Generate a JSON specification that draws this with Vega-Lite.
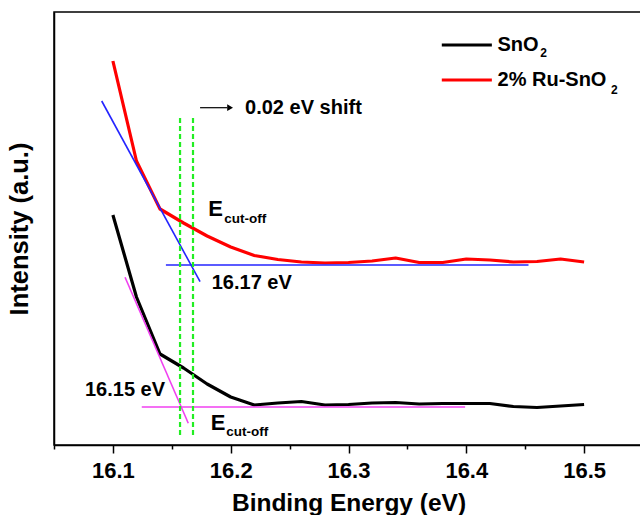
{
  "$schema": "https://vega.github.io/schema/vega-lite/v6.json",
  "width": 589,
  "height": 433,
  "autosize": {"type": "none"},
  "padding": {"left": 54, "top": 12, "right": 0, "bottom": 70},
  "background": "white",
  "config": {
    "view": {"stroke": "black", "strokeWidth": 1.5},
    "font": "Liberation Sans"
  },
  "datasets": {
    "spectra": [
      {"sample": "2% Ru-SnO2", "energy": 16.10, "intensity": 384},
      {"sample": "2% Ru-SnO2", "energy": 16.12, "intensity": 284},
      {"sample": "2% Ru-SnO2", "energy": 16.14, "intensity": 236},
      {"sample": "2% Ru-SnO2", "energy": 16.16, "intensity": 222},
      {"sample": "2% Ru-SnO2", "energy": 16.18, "intensity": 209},
      {"sample": "2% Ru-SnO2", "energy": 16.20, "intensity": 198},
      {"sample": "2% Ru-SnO2", "energy": 16.22, "intensity": 189.5},
      {"sample": "2% Ru-SnO2", "energy": 16.24, "intensity": 185.5},
      {"sample": "2% Ru-SnO2", "energy": 16.26, "intensity": 183},
      {"sample": "2% Ru-SnO2", "energy": 16.28, "intensity": 182},
      {"sample": "2% Ru-SnO2", "energy": 16.30, "intensity": 182.5},
      {"sample": "2% Ru-SnO2", "energy": 16.32, "intensity": 184},
      {"sample": "2% Ru-SnO2", "energy": 16.34, "intensity": 187},
      {"sample": "2% Ru-SnO2", "energy": 16.36, "intensity": 182.5},
      {"sample": "2% Ru-SnO2", "energy": 16.38, "intensity": 182.5},
      {"sample": "2% Ru-SnO2", "energy": 16.40, "intensity": 186},
      {"sample": "2% Ru-SnO2", "energy": 16.42, "intensity": 185},
      {"sample": "2% Ru-SnO2", "energy": 16.44, "intensity": 183},
      {"sample": "2% Ru-SnO2", "energy": 16.46, "intensity": 183.5},
      {"sample": "2% Ru-SnO2", "energy": 16.48, "intensity": 186},
      {"sample": "2% Ru-SnO2", "energy": 16.50, "intensity": 183},
      {"sample": "SnO2", "energy": 16.10, "intensity": 230},
      {"sample": "SnO2", "energy": 16.12, "intensity": 148},
      {"sample": "SnO2", "energy": 16.14, "intensity": 91},
      {"sample": "SnO2", "energy": 16.16, "intensity": 77},
      {"sample": "SnO2", "energy": 16.18, "intensity": 61},
      {"sample": "SnO2", "energy": 16.20, "intensity": 48},
      {"sample": "SnO2", "energy": 16.22, "intensity": 40},
      {"sample": "SnO2", "energy": 16.24, "intensity": 42},
      {"sample": "SnO2", "energy": 16.26, "intensity": 43.5},
      {"sample": "SnO2", "energy": 16.28, "intensity": 40},
      {"sample": "SnO2", "energy": 16.30, "intensity": 40.5},
      {"sample": "SnO2", "energy": 16.32, "intensity": 42},
      {"sample": "SnO2", "energy": 16.34, "intensity": 42.5},
      {"sample": "SnO2", "energy": 16.36, "intensity": 41},
      {"sample": "SnO2", "energy": 16.38, "intensity": 41.5},
      {"sample": "SnO2", "energy": 16.40, "intensity": 41.5},
      {"sample": "SnO2", "energy": 16.42, "intensity": 41.5},
      {"sample": "SnO2", "energy": 16.44, "intensity": 38.5},
      {"sample": "SnO2", "energy": 16.46, "intensity": 37.5},
      {"sample": "SnO2", "energy": 16.48, "intensity": 39},
      {"sample": "SnO2", "energy": 16.50, "intensity": 40.5}
    ],
    "fits": [
      {"fit": "2% Ru-SnO2 fit", "x1": 16.0905, "y1": 344, "x2": 16.174, "y2": 163.3},
      {"fit": "2% Ru-SnO2 fit", "x1": 16.145, "y1": 180, "x2": 16.4528, "y2": 180},
      {"fit": "SnO2 fit", "x1": 16.1103, "y1": 167.7, "x2": 16.164, "y2": 21.7},
      {"fit": "SnO2 fit", "x1": 16.1245, "y1": 38, "x2": 16.399, "y2": 38}
    ],
    "cutoffs": [
      {"energy": 16.157, "top": 327, "bottom": 8},
      {"energy": 16.168, "top": 327, "bottom": 8}
    ],
    "arrow": [
      {"x1": 16.174, "x2": 16.197, "y": 337.3}
    ],
    "arrowhead": [
      {"x": 16.1995, "y": 337.3}
    ],
    "legendlines": [
      {"sample": "SnO2", "x1": 16.3792, "x2": 16.4217, "y": 400},
      {"sample": "2% Ru-SnO2", "x1": 16.3792, "x2": 16.4217, "y": 365}
    ],
    "texts": [
      {"kind": "label", "text": "0.02 eV shift", "x": 16.2122, "y": 337.2},
      {"kind": "label", "text": "16.17 eV", "x": 16.1839, "y": 161.7},
      {"kind": "label", "text": "16.15 eV", "x": 16.0763, "y": 55},
      {"kind": "big", "text": "E", "x": 16.181, "y": 236},
      {"kind": "big", "text": "E", "x": 16.1831, "y": 22.5},
      {"kind": "label", "text": "SnO", "x": 16.4265, "y": 400},
      {"kind": "label", "text": "2% Ru-SnO", "x": 16.4265, "y": 365},
      {"kind": "sub", "text": "cut-off", "x": 16.1945, "y": 226},
      {"kind": "sub", "text": "cut-off", "x": 16.1962, "y": 13},
      {"kind": "sub2", "text": "2", "x": 16.4627, "y": 391.7},
      {"kind": "sub2", "text": "2", "x": 16.5228, "y": 354.7}
    ]
  },
  "layer": [
    {
      "data": {"name": "spectra"},
      "mark": {"type": "line", "strokeWidth": 3.2, "strokeJoin": "round"},
      "encoding": {
        "x": {
          "field": "energy",
          "type": "quantitative",
          "scale": {"domain": [16.05, 16.55], "nice": false, "zero": false},
          "axis": {
            "values": [16.05, 16.1, 16.15, 16.2, 16.25, 16.3, 16.35, 16.4, 16.45, 16.5, 16.55],
            "title": "Binding Energy (eV)",
            "titleFontSize": 24.5,
            "titleFontWeight": "bold",
            "titleColor": "black",
            "titlePadding": 10,
            "labelFontSize": 22,
            "labelFontWeight": "bold",
            "labelColor": "black",
            "labelPadding": 7,
            "labelFlush": false,
            "labelOverlap": false,
            "labelExpr": "abs(round(datum.value*10)-datum.value*10) > 0.01 ? '' : format(datum.value, '.1f')",
            "tickSize": {"condition": {"test": "abs(round(datum.value*10)-datum.value*10) > 0.01", "value": 4}, "value": 8},
            "tickColor": "black",
            "tickWidth": 1.5,
            "domainColor": "black",
            "domainWidth": 1.5,
            "grid": false
          }
        },
        "y": {
          "field": "intensity",
          "type": "quantitative",
          "scale": {"domain": [0, 433], "nice": false, "zero": false},
          "axis": {
            "title": "Intensity (a.u.)",
            "ticks": false,
            "labels": false,
            "domainColor": "black",
            "domainWidth": 1.5,
            "titleFontSize": 25.5,
            "titleFontWeight": "bold",
            "titleColor": "black",
            "titlePadding": 22,
            "grid": false
          }
        },
        "color": {
          "field": "sample",
          "type": "nominal",
          "scale": {
            "domain": ["SnO2", "2% Ru-SnO2", "SnO2 fit", "2% Ru-SnO2 fit"],
            "range": ["#000000", "#ff0000", "#f040f0", "#2424ff"]
          },
          "legend": null
        }
      }
    },
    {
      "data": {"name": "fits"},
      "mark": {"type": "rule", "strokeWidth": 1.6},
      "encoding": {
        "x": {"field": "x1", "type": "quantitative"},
        "x2": {"field": "x2"},
        "y": {"field": "y1", "type": "quantitative"},
        "y2": {"field": "y2"},
        "color": {"field": "fit", "type": "nominal", "legend": null}
      }
    },
    {
      "data": {"name": "cutoffs"},
      "mark": {"type": "rule", "strokeWidth": 2.2, "strokeDash": [5, 3], "color": "#22ee22"},
      "encoding": {
        "x": {"field": "energy", "type": "quantitative"},
        "y": {"field": "top", "type": "quantitative"},
        "y2": {"field": "bottom"}
      }
    },
    {
      "data": {"name": "arrow"},
      "mark": {"type": "rule", "strokeWidth": 1.2, "color": "black"},
      "encoding": {
        "x": {"field": "x1", "type": "quantitative"},
        "x2": {"field": "x2"},
        "y": {"field": "y", "type": "quantitative"}
      }
    },
    {
      "data": {"name": "arrowhead"},
      "mark": {"type": "point", "shape": "triangle-right", "filled": true, "color": "black", "size": 45, "opacity": 1},
      "encoding": {
        "x": {"field": "x", "type": "quantitative"},
        "y": {"field": "y", "type": "quantitative"}
      }
    },
    {
      "data": {"name": "legendlines"},
      "mark": {"type": "rule", "strokeWidth": 3},
      "encoding": {
        "x": {"field": "x1", "type": "quantitative"},
        "x2": {"field": "x2"},
        "y": {"field": "y", "type": "quantitative"},
        "color": {"field": "sample", "type": "nominal", "legend": null}
      }
    },
    {
      "data": {"name": "texts"},
      "transform": [{"filter": "datum.kind == 'label'"}],
      "mark": {"type": "text", "align": "left", "baseline": "middle", "fontSize": 20, "fontWeight": "bold", "color": "black"},
      "encoding": {
        "x": {"field": "x", "type": "quantitative"},
        "y": {"field": "y", "type": "quantitative"},
        "text": {"field": "text"}
      }
    },
    {
      "data": {"name": "texts"},
      "transform": [{"filter": "datum.kind == 'big'"}],
      "mark": {"type": "text", "align": "left", "baseline": "middle", "fontSize": 22, "fontWeight": "bold", "color": "black"},
      "encoding": {
        "x": {"field": "x", "type": "quantitative"},
        "y": {"field": "y", "type": "quantitative"},
        "text": {"field": "text"}
      }
    },
    {
      "data": {"name": "texts"},
      "transform": [{"filter": "datum.kind == 'sub'"}],
      "mark": {"type": "text", "align": "left", "baseline": "middle", "fontSize": 13.5, "fontWeight": "bold", "color": "black"},
      "encoding": {
        "x": {"field": "x", "type": "quantitative"},
        "y": {"field": "y", "type": "quantitative"},
        "text": {"field": "text"}
      }
    },
    {
      "data": {"name": "texts"},
      "transform": [{"filter": "datum.kind == 'sub2'"}],
      "mark": {"type": "text", "align": "left", "baseline": "middle", "fontSize": 12, "fontWeight": "bold", "color": "black"},
      "encoding": {
        "x": {"field": "x", "type": "quantitative"},
        "y": {"field": "y", "type": "quantitative"},
        "text": {"field": "text"}
      }
    }
  ]
}
